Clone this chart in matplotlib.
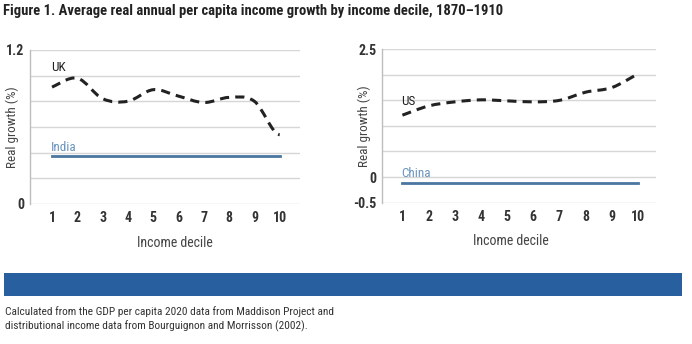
import matplotlib
matplotlib.use("Agg")
import matplotlib.pyplot as plt
from matplotlib import font_manager
from matplotlib.path import Path
from matplotlib.patches import PathPatch, Rectangle

# prefer a condensed face if one is installed
installed = {f.name for f in font_manager.fontManager.ttflist}
narrow = [f for f in ['Liberation Sans Narrow', 'DejaVu Sans Condensed', 'Roboto Condensed',
                      'Open Sans Condensed'] if f in installed]
plt.rcParams['font.family'] = narrow + ['Liberation Sans', 'DejaVu Sans']

# ======================
# Data
deciles = [1, 2, 3, 4, 5, 6, 7, 8, 9, 10]
uk_growth = [0.91, 0.98, 0.82, 0.80, 0.89, 0.84, 0.79, 0.83, 0.80, 0.54]
india_growth = 0.37
us_growth = [1.21, 1.39, 1.47, 1.51, 1.49, 1.47, 1.50, 1.66, 1.75, 2.02]
china_growth = -0.12

left_yticks = [0, 1.2]
left_grid = [0, 0.2, 0.4, 0.6, 0.8, 1.0, 1.2]
right_yticks = [-0.5, 0, 2.5]
right_grid = [-0.5, 0, 0.5, 1.0, 1.5, 2.0, 2.5]

title = "Figure 1. Average real annual per capita income growth by income decile, 1870\u20131910"
note = ("Calculated from the GDP per capita 2020 data from Maddison Project and\n"
        "distributional income data from Bourguignon and Morrisson (2002).")

# ======================
TICK_COLOR = '#333333'
GRID_COLOR = '#d6d6d6'
FLAT_COLOR = '#4a76a0'
FLAT_LABEL = '#6a93bd'
LINE_COLOR = '#222222'
scale = 1.0 if narrow else 0.87  # shrink a bit when no condensed face exists


def smooth_path(xs, ys, flat_end=False):
    # Catmull-Rom style bezier through the data points (like Excel's smoothed line)
    pts = list(zip(xs, ys))
    verts = [pts[0]]
    codes = [Path.MOVETO]
    n = len(pts)
    for i in range(n - 1):
        p0 = pts[i - 1] if i > 0 else pts[i]
        p1 = pts[i]
        p2 = pts[i + 1]
        p3 = pts[i + 2] if i + 2 < n else pts[i + 1]
        c1 = (p1[0] + (p2[0] - p0[0]) / 6, p1[1] + (p2[1] - p0[1]) / 6)
        c2 = (p2[0] - (p3[0] - p1[0]) / 6, p2[1] - (p3[1] - p1[1]) / 6)
        if flat_end and i == n - 2:
            c2 = (p2[0] - 0.3, p2[1])
        verts += [c1, c2, p2]
        codes += [Path.CURVE4] * 3
    return Path(verts, codes)


def draw_panel(ax, values, flat, name, flat_name, grid, yticks, ylim, xlim, name_y,
               flat_label_y, xlabel_x, flat_end):
    for g in grid:
        ax.axhline(g, color=GRID_COLOR, linewidth=1, zorder=0)
    ax.add_patch(PathPatch(smooth_path(deciles, values, flat_end), fill=False,
                           edgecolor=LINE_COLOR, linewidth=2.2, linestyle=(0, (3, 2)),
                           capstyle='butt', zorder=3))
    ax.plot([deciles[0], deciles[-1]], [flat, flat], color=FLAT_COLOR, linewidth=2, zorder=2)
    ax.text(deciles[0] - 0.05, name_y, name, fontsize=9.5 * scale, color='#222222',
            ha='left', va='center')
    ax.text(deciles[0] - 0.05, flat_label_y, flat_name, fontsize=9.5 * scale, color=FLAT_LABEL,
            ha='left', va='center')

    ax.set_xlim(*xlim)
    ax.set_ylim(*ylim)
    ax.set_xticks(deciles)
    ax.set_yticks(yticks)
    ax.set_yticklabels([f"{t:g}" for t in yticks])
    ax.tick_params(axis='both', length=0, labelsize=10 * scale, labelcolor=TICK_COLOR)
    ax.tick_params(axis='x', pad=5)
    ax.tick_params(axis='y', pad=4)
    for lab in ax.get_xticklabels() + ax.get_yticklabels():
        lab.set_fontweight('bold')
    for side in ['top', 'right', 'bottom']:
        ax.spines[side].set_visible(False)
    ax.spines['left'].set_color('#bdbdbd')
    ax.spines['left'].set_linewidth(1)
    ax.set_xlabel("Income decile", fontsize=10 * scale, color='#444444')
    ax.xaxis.set_label_coords(xlabel_x, -0.205)
    ax.set_ylabel("Real growth (%)", fontsize=9.5 * scale, color='#444444')
    ax.yaxis.set_label_coords(-0.04, 0.5)


fig = plt.figure(figsize=(6.92, 3.44), dpi=100)

ax1 = fig.add_axes([0.0434, 0.407, 0.390, 0.448])
draw_panel(ax1, uk_growth, india_growth, "UK", "India", left_grid, left_yticks,
           (0, 1.2), (0.13, 10.8), 1.06, 0.44, 0.535, True)

ax2 = fig.add_axes([0.5516, 0.411, 0.397, 0.446])
draw_panel(ax2, us_growth, china_growth, "US", "China", right_grid, right_yticks,
           (-0.5, 2.5), (0.21, 10.7), 1.48, 0.07, 0.47, False)

fig.text(0.005, 0.968, title, fontsize=10.5 * scale, fontweight='bold', color='#222222',
         ha='left', va='center')

# blue band and source note
fig.patches.append(Rectangle((0.006, 0.14), 0.979, 0.067, transform=fig.transFigure,
                             facecolor='#285f9e', edgecolor='none'))
fig.text(0.007, 0.072, note, fontsize=8.2 * scale, color='#333333', ha='left', va='center',
         linespacing=1.35)

fig.savefig("out.png", dpi=100)
